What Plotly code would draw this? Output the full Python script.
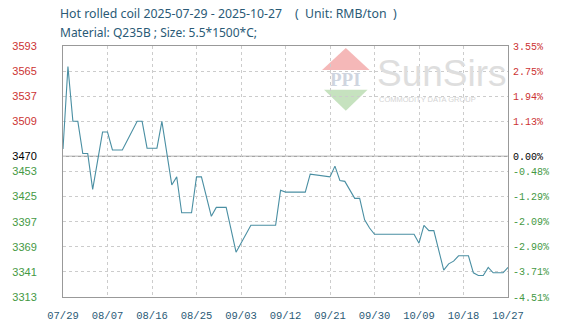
import plotly.graph_objects as go

# ---- data ----
dates = ["2025-07-29", "2025-07-30", "2025-07-31", "2025-08-01", "2025-08-02", "2025-08-03",
         "2025-08-04", "2025-08-06", "2025-08-07", "2025-08-08", "2025-08-10", "2025-08-13",
         "2025-08-14", "2025-08-15", "2025-08-17", "2025-08-18", "2025-08-20", "2025-08-21",
         "2025-08-22", "2025-08-24", "2025-08-25", "2025-08-26", "2025-08-28", "2025-08-29",
         "2025-08-31", "2025-09-02", "2025-09-05", "2025-09-10", "2025-09-11", "2025-09-12",
         "2025-09-16", "2025-09-17", "2025-09-21", "2025-09-22", "2025-09-23", "2025-09-24",
         "2025-09-26", "2025-09-27", "2025-09-28", "2025-09-29", "2025-09-30", "2025-10-08",
         "2025-10-09", "2025-10-10", "2025-10-11", "2025-10-12", "2025-10-14", "2025-10-15",
         "2025-10-16", "2025-10-17", "2025-10-19", "2025-10-20", "2025-10-21", "2025-10-22",
         "2025-10-23", "2025-10-24", "2025-10-26", "2025-10-27"]
prices = [3478, 3570, 3509, 3509, 3473, 3473,
          3433, 3497, 3497, 3477, 3477, 3509,
          3509, 3479, 3479, 3509, 3438, 3447,
          3407, 3407, 3447, 3447, 3403, 3413,
          3413, 3363, 3393, 3393, 3432, 3430,
          3430, 3450, 3447, 3459, 3443, 3442,
          3423, 3423, 3399, 3390, 3383, 3383,
          3373, 3393, 3387, 3387, 3343, 3350,
          3353, 3359, 3359, 3340, 3337, 3337,
          3346, 3340, 3340, 3346]

base_price = 3470
y_ticks = [3593, 3565, 3537, 3509, 3470, 3453, 3425, 3397, 3369, 3341, 3313]
pct_labels = ["3.55%", "2.75%", "1.94%", "1.13%", "0.00%", "-0.48%", "-1.29%", "-2.09%",
              "-2.90%", "-3.71%", "-4.51%"]
x_ticks = ["2025-07-29", "2025-08-07", "2025-08-16", "2025-08-25", "2025-09-03", "2025-09-12",
           "2025-09-21", "2025-09-30", "2025-10-09", "2025-10-18", "2025-10-27"]
x_labels = ["07/29", "08/07", "08/16", "08/25", "09/03", "09/12", "09/21", "09/30", "10/09",
            "10/18", "10/27"]

title1 = ("Hot rolled coil 2025-07-29 - 2025-10-27&nbsp;&nbsp;&nbsp;&nbsp;(&nbsp;&nbsp;Unit: "
          "RMB/ton&nbsp;&nbsp;)")
title2 = "Material: Q235B ; Size: 5.5*1500*C;"

RED = "#cc3333"
GREEN = "#449944"
BLACK = "#000000"
TEAL = "#2a5a76"


def col(v):
    if v > base_price:
        return RED
    if v < base_price:
        return GREEN
    return BLACK


left_text = [f"<span style='color:{col(v)}'>{v}</span>" for v in y_ticks]
right_text = [f"<span style='color:{col(v)}'>{t}</span>" for v, t in zip(y_ticks, pct_labels)]

fig = go.Figure()
fig.add_trace(go.Scatter(x=dates, y=prices, mode="lines",
                         line=dict(color="#4a8fa3", width=1.1), hoverinfo="skip",
                         showlegend=False))
# invisible trace for right axis
fig.add_trace(go.Scatter(x=[dates[0]], y=[base_price], yaxis="y2", mode="markers",
                         marker=dict(opacity=0), showlegend=False, hoverinfo="skip"))

# baseline
fig.add_shape(type="line", xref="paper", x0=0, x1=1, yref="y", y0=base_price, y1=base_price,
              line=dict(color="#888888", width=1), layer="below")

# watermark logo
L, R, T, B = 58, 508, 46, 298
def px(x):
    return (x - L) / (R - L)
def py(y):
    return (B - y) / (B - T)

fig.add_shape(type="path", xref="paper", yref="paper",
              path=f"M {px(320)} {py(70)} L {px(344)} {py(48)} L {px(368)} {py(70)} Z",
              fillcolor="#f5b8b8", line=dict(width=0), layer="below")
fig.add_shape(type="path", xref="paper", yref="paper",
              path=f"M {px(322)} {py(90)} L {px(344)} {py(111)} L {px(366)} {py(90)} Z",
              fillcolor="#c6e2bf", line=dict(width=0), layer="below")
fig.add_annotation(xref="paper", yref="paper", x=px(344), y=py(80), text="<b>PPI</b>",
                   showarrow=False, font=dict(family="Liberation Serif", size=19, color="#cfd5df"),
                   xanchor="center", yanchor="middle")
fig.add_annotation(xref="paper", yref="paper", x=px(373), y=py(74), text="SunSirs",
                   showarrow=False, font=dict(family="Liberation Sans", size=37, color="#dedede"),
                   xanchor="left", yanchor="middle")
fig.add_annotation(xref="paper", yref="paper", x=px(376), y=py(100), text="COMMODITY DATA GROUP",
                   showarrow=False, font=dict(family="Liberation Sans", size=7.5, color="#d4d4d4"),
                   xanchor="left", yanchor="middle")

# titles
fig.add_annotation(xref="paper", yref="paper", x=px(53), y=py(13), text=title1,
                   showarrow=False, font=dict(family="Noto Sans", size=12.3, color=TEAL),
                   xanchor="left", yanchor="middle")
fig.add_annotation(xref="paper", yref="paper", x=px(53), y=py(32), text=title2,
                   showarrow=False, font=dict(family="Noto Sans", size=12, color=TEAL),
                   xanchor="left", yanchor="middle")

grid = dict(showgrid=True, gridcolor="#cccccc", griddash="dot", gridwidth=1)

fig.update_layout(
    width=574, height=334,
    margin=dict(l=L, r=574 - R, t=T, b=334 - B),
    paper_bgcolor="white", plot_bgcolor="white",
    xaxis=dict(type="date", range=["2025-07-29", "2025-10-27"], tickvals=x_ticks,
               ticktext=x_labels, tickfont=dict(family="Liberation Mono", size=10.5, color=TEAL),
               ticks="", showline=True, linecolor="#999999", mirror=True, zeroline=False,
               ticklabelstandoff=8, **grid),
    yaxis=dict(range=[3313, 3593], tickvals=y_ticks, ticktext=left_text,
               tickfont=dict(family="Liberation Sans", size=11), ticks="", showline=True,
               linecolor="#999999", mirror=True, zeroline=False, ticklabelstandoff=23, **grid),
    yaxis2=dict(range=[3313, 3593], overlaying="y", side="right", tickvals=y_ticks,
                ticktext=right_text, tickfont=dict(family="Liberation Mono", size=10),
                ticks="", showgrid=False, zeroline=False, showline=False,
                ticklabelstandoff=4),
)

fig.write_html("out.html")
